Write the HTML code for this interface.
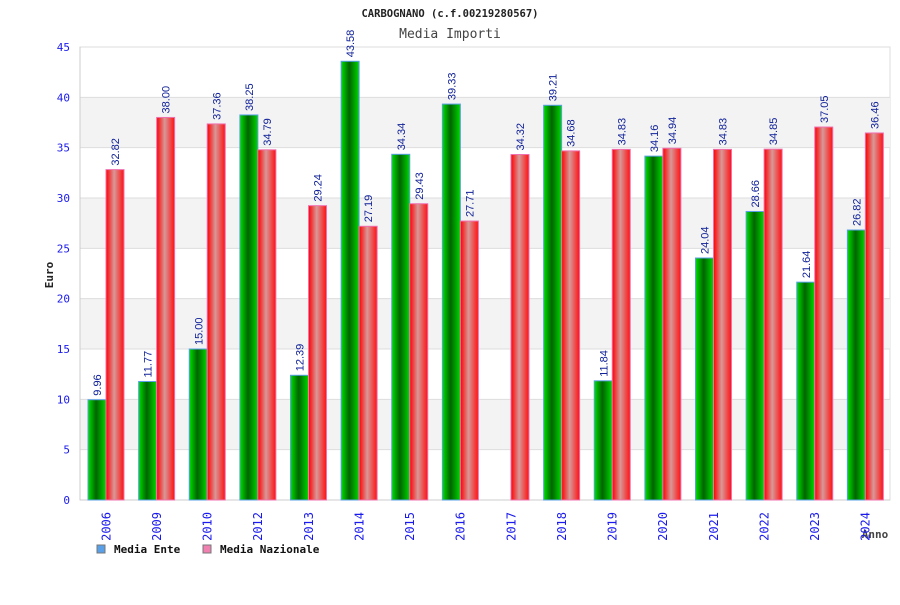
<!DOCTYPE html>
<html><head><meta charset="utf-8"><style>
body{margin:0;background:#fff}
svg text{font-family:"DejaVu Sans Mono","Liberation Mono",monospace}
svg text.vl{font-family:"Liberation Sans",sans-serif}
</style></head><body>
<svg id="c" width="900" height="600" xmlns="http://www.w3.org/2000/svg">
<defs>
<linearGradient id="gG" x1="0" x2="1"><stop offset="0" stop-color="#00e000"/><stop offset="0.45" stop-color="#006400"/><stop offset="1" stop-color="#00d800"/></linearGradient>
<linearGradient id="gR" x1="0" x2="1"><stop offset="0" stop-color="#ff0000"/><stop offset="0.45" stop-color="#d89898"/><stop offset="1" stop-color="#ff1010"/></linearGradient>
</defs>
<text x="450" y="17" text-anchor="middle" font-size="10.5" font-weight="bold" fill="#222">CARBOGNANO (c.f.00219280567)</text>
<text x="450" y="38" text-anchor="middle" font-size="13" fill="#444">Media Importi</text>
<text transform="translate(53,275) rotate(-90)" text-anchor="middle" font-size="11" font-weight="bold" fill="#222">Euro</text>
<text x="875" y="538" text-anchor="middle" font-size="11" font-weight="bold" fill="#444">Anno</text>
<g id="grid"></g><g id="bars"></g><g id="labels"></g>
<rect x="97" y="545" width="8" height="8" fill="#5aa0e8" stroke="#777"/>
<text x="114" y="553" font-size="11" font-weight="bold" fill="#111">Media Ente</text>
<rect x="203" y="545" width="8" height="8" fill="#f080b0" stroke="#777"/>
<text x="220" y="553" font-size="11" font-weight="bold" fill="#111">Media Nazionale</text>
</svg>
<script>
const years=["2006","2009","2010","2012","2013","2014","2015","2016","2017","2018","2019","2020","2021","2022","2023","2024"];
const ente=[9.96,11.77,15.00,38.25,12.39,43.58,34.34,39.33,null,39.21,11.84,34.16,24.04,28.66,21.64,26.82];
const naz=[32.82,38.00,37.36,34.79,29.24,27.19,29.43,27.71,34.32,34.68,34.83,34.94,34.83,34.85,37.05,36.46];
const yTicks=[0,5,10,15,20,25,30,35,40,45];
const NS="http://www.w3.org/2000/svg";
const L=80,R=890,T=47,B=500,MAX=45;
const y=v=>B-(v/MAX)*(B-T);
const gw=(R-L)/years.length;
const x=i=>L+i*gw;
function mk(t,a,p){const e=document.createElementNS(NS,t);for(const k in a)e.setAttribute(k,a[k]);p.appendChild(e);return e;}
const grid=document.getElementById('grid'),bars=document.getElementById('bars'),labels=document.getElementById('labels');
mk('rect',{x:L,y:T,width:R-L,height:B-T,fill:'#fff',stroke:'#ddd'},grid);
for(let k=0;k<yTicks.length-1;k++){
  const a=yTicks[k],b=yTicks[k+1];
  if(k%2===1){const r=mk('rect',{x:L,y:y(b),width:R-L,height:y(a)-y(b),fill:'#f3f3f3'},grid);
  
  }
}
yTicks.forEach(v=>{
  const l=mk('line',{x1:L,x2:R,y1:y(v),y2:y(v),stroke:'#ddd'},grid);
  
  
  const t=mk('text',{x:70,y:y(v)+4,'text-anchor':'end','font-size':11,fill:'#1a1aee'},grid);
  t.textContent=v;
  
  
});
mk('line',{x1:L,x2:L,y1:T,y2:B,stroke:'#ccc'},grid);
mk('line',{x1:L,x2:R,y1:B,y2:B,stroke:'#ccc'},grid);
function lab(cx,v){
  const t=mk('text',{class:'vl',transform:`translate(${cx+4},${y(v)-4}) rotate(-90)`,'font-size':11,fill:'#112299'},labels);
  t.textContent=v.toFixed(2);
  
  
}
years.forEach((yr,i)=>{
  const gx=x(i)+8,bw=18;
  if(ente[i]!==null){
    const r=mk('rect',{x:gx,y:y(ente[i]),width:bw,height:B-y(ente[i]),fill:'url(#gG)',stroke:'#5aa0e8','stroke-width':1},bars);
    
    
    lab(gx+bw/2,ente[i]);
  }
  const r2=mk('rect',{x:gx+bw,y:y(naz[i]),width:bw,height:B-y(naz[i]),fill:'url(#gR)',stroke:'#f070b0','stroke-width':1},bars);
  
  
  lab(gx+bw*1.5,naz[i]);
  const t=mk('text',{transform:`translate(${x(i)+gw/2+5},${512}) rotate(-90)`,'text-anchor':'end','font-size':12,fill:'#1a1aee'},labels);
  t.textContent=yr;
  
  
});
</script>
</body></html>
